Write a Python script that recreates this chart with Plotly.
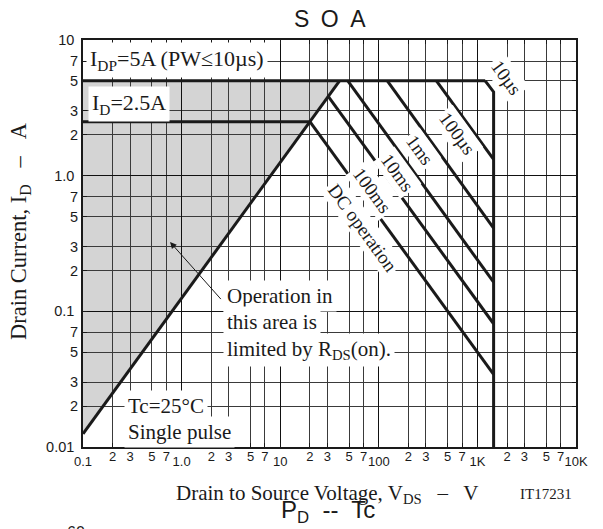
import numpy as np
import plotly.graph_objects as go

# ---------------- data ----------------
# safe-operating-area boundaries (V in volts, I in amps)
rds_v = [0.1, 40]
rds_i = [0.0125, 5]
id_v = [0.1, 20]
id_i = [2.5, 2.5]
idp_v = [0.1, 1200]
idp_i = [5, 5]
us10_v = [1200, 1460, 1460]
us10_i = [5, 4.14, 0.01]
us100_v = [384, 1460]
us100_i = [5, 1.32]
ms1_v = [122, 1460]
ms1_i = [5, 0.41]
ms10_v = [48.5, 1460]
ms10_i = [5, 0.164]
ms100_v = [30.7, 1460]
ms100_i = [3.84, 0.081]
dc_v = [20, 1460]
dc_i = [2.5, 0.0343]

# shaded region limited by RDS(on)
fill_v = [0.1, 40, 0.1]
fill_i = [0.0125, 5, 5]

# tick labels
major_x = [0.1, 1, 10, 100, 1000, 10000]
major_x_text = ["0.1", "1.0", "10", "100", "1K", "10K"]
minor_x = [0.2, 0.3, 0.5, 0.7, 2, 3, 5, 7, 20, 30, 50, 70,
           200, 300, 500, 700, 2000, 3000, 5000, 7000]
minor_x_text = ["2", "3", "5", "7"] * 5
major_y = [0.01, 0.1, 1, 10]
major_y_text = ["0.01", "0.1", "1.0", "10"]
minor_y = [0.02, 0.03, 0.05, 0.07, 0.2, 0.3, 0.5, 0.7, 2, 3, 5, 7]
minor_y_text = ["2", "3", "5", "7"] * 3

# pulse-width labels (text, V, I)
pulse_labels = ["10µs", "100µs", "1ms", "10ms", "100ms", "DC operation"]
pulse_label_v = [1970, 627, 264, 154, 86, 68]
pulse_label_i = [5.31, 2.05, 1.54, 1.057, 0.78, 0.414]

# ---------------- layout constants ----------------
W, H = 603, 529
ML, MR, MT, MB = 83, 27, 40, 82
PW, PH = W - ML - MR, H - MT - MB

def xp(px):
    return (px - ML) / PW

def yp(py):
    return (H - MB - py) / PH

SERIF = "Liberation Serif"
SANS = "Liberation Sans"
INK = "#1a1a1a"

fig = go.Figure()

line_style = dict(color=INK, width=3)
for v, i in [(rds_v, rds_i), (id_v, id_i), (idp_v, idp_i), (us10_v, us10_i),
             (us100_v, us100_i), (ms1_v, ms1_i), (ms10_v, ms10_i),
             (ms100_v, ms100_i), (dc_v, dc_i)]:
    fig.add_trace(go.Scatter(x=v, y=i, mode="lines", line=line_style,
                             hoverinfo="skip", showlegend=False))

# invisible traces to activate the overlay label axes
fig.add_trace(go.Scatter(x=[1], y=[1], xaxis="x2", yaxis="y", mode="markers",
                         marker=dict(opacity=0), hoverinfo="skip", showlegend=False))
fig.add_trace(go.Scatter(x=[1], y=[1], xaxis="x", yaxis="y2", mode="markers",
                         marker=dict(opacity=0), hoverinfo="skip", showlegend=False))

# shaded area (below gridlines); shape paths take data values on log axes
path = "M{},{} L{},{} L{},{} Z".format(fill_v[0], fill_i[0], fill_v[1], fill_i[1],
                                        fill_v[2], fill_i[2])
fig.add_shape(type="path", path=path, xref="x", yref="y", layer="below",
              fillcolor="#d4d4d4", line=dict(width=0))

tickfont = dict(family=SANS, size=13, color=INK)
ytickfont = dict(family=SANS, size=14.5, color=INK)

fig.update_layout(
    width=W, height=H,
    margin=dict(l=ML, r=MR, t=MT, b=MB),
    paper_bgcolor="white", plot_bgcolor="white",
    hovermode=False, showlegend=False,
    xaxis=dict(type="log", range=[-1, 4], tickvals=major_x, ticktext=major_x_text,
               ticks="inside", ticklen=4, tickcolor=INK, tickwidth=1,
               showline=True, linecolor=INK, linewidth=1.6, mirror="ticks",
               showgrid=True, gridcolor="#111111", gridwidth=1.3, zeroline=False,
               tickfont=tickfont, ticklabelstandoff=2,
               minor=dict(tickvals=minor_x, ticks="inside", ticklen=4, tickcolor=INK,
                          showgrid=True, gridcolor="#3a3a3a", gridwidth=1)),
    xaxis2=dict(type="log", range=[-1, 4], overlaying="x", anchor="y", side="bottom",
                tickvals=minor_x, ticktext=minor_x_text, ticks="", showgrid=False,
                showline=False, zeroline=False, tickfont=tickfont, ticklabelstandoff=0),
    yaxis=dict(type="log", range=[-2, 1], tickvals=major_y, ticktext=major_y_text,
               ticks="inside", ticklen=4, tickcolor=INK, tickwidth=1,
               showline=True, linecolor=INK, linewidth=1.6, mirror="ticks",
               showgrid=True, gridcolor="#111111", gridwidth=1.3, zeroline=False,
               tickfont=ytickfont, ticklabelstandoff=4,
               minor=dict(tickvals=minor_y, ticks="inside", ticklen=4, tickcolor=INK,
                          showgrid=True, gridcolor="#3a3a3a", gridwidth=1)),
    yaxis2=dict(type="log", range=[-2, 1], overlaying="y", anchor="x", side="left",
                tickvals=minor_y, ticktext=minor_y_text, ticks="", showgrid=False,
                showline=False, zeroline=False, tickfont=ytickfont, ticklabelstandoff=4),
)

ann = []
# pulse labels along lines
for t, v, i in zip(pulse_labels, pulse_label_v, pulse_label_i):
    ann.append(dict(text=t, x=np.log10(v), y=np.log10(i), xref="x", yref="y",
                    textangle=54, showarrow=False, bgcolor="white", borderpad=2,
                    font=dict(family=SERIF, size=19, color=INK)))

def box_text(text, px, py, size=21, anchor="left", pad=3):
    return dict(text=text, x=xp(px), y=yp(py), xref="paper", yref="paper",
                xanchor=anchor, yanchor="middle", showarrow=False,
                bgcolor="white", borderpad=pad,
                font=dict(family=SERIF, size=size, color=INK))

ann.append(box_text("I<sub>DP</sub>=5A (PW≤10µs)", 86, 60, size=22))
ann.append(box_text("I<sub>D</sub>=2.5A", 88, 104, size=22))
ann.append(box_text("Operation in", 223, 296))
ann.append(box_text("this area is", 223, 322))
ann.append(box_text("limited by R<sub>DS</sub>(on).", 223, 350))
ann.append(box_text("Tc=25°C", 124, 406))
ann.append(box_text("Single pulse", 124, 432))

# arrow pointing into the shaded area
ann.append(dict(text="", x=np.log10(0.764), y=np.log10(0.324), xref="x", yref="y",
                ax=np.log10(2.58), ay=np.log10(0.120), axref="x", ayref="y",
                showarrow=True, arrowhead=2, arrowsize=1.3, arrowwidth=1,
                arrowcolor=INK, standoff=0, startstandoff=0))

# axis titles & titles
ann.append(dict(text="Drain Current, I<sub>D</sub>\u2002 – \u2002A", x=xp(20), y=yp(231),
                xref="paper", yref="paper", textangle=-90, showarrow=False,
                xanchor="center", yanchor="middle",
                font=dict(family=SERIF, size=22.5, color=INK)))
ann.append(dict(text="Drain to Source Voltage, V<sub>DS</sub> \u2002–\u2002 V", x=xp(327), y=yp(494),
                xref="paper", yref="paper", showarrow=False,
                xanchor="center", yanchor="middle",
                font=dict(family=SERIF, size=21, color=INK)))
ann.append(dict(text="IT17231", x=xp(546), y=yp(494), xref="paper", yref="paper",
                showarrow=False, xanchor="center", yanchor="middle",
                font=dict(family=SERIF, size=15, color=INK)))
ann.append(dict(text="S\u2002O\u2002A", x=xp(330), y=yp(19), xref="paper", yref="paper",
                showarrow=False, xanchor="center", yanchor="middle",
                font=dict(family=SANS, size=23, color=INK)))
ann.append(dict(text="P<sub>D</sub>  --  Tc", x=xp(328), y=yp(511), xref="paper", yref="paper",
                showarrow=False, xanchor="center", yanchor="middle",
                font=dict(family=SANS, size=24, color=INK)))
ann.append(dict(text="60", x=xp(76), y=yp(522), xref="paper", yref="paper",
                showarrow=False, xanchor="center", yanchor="top",
                font=dict(family=SANS, size=16, color=INK)))

fig.update_layout(annotations=ann)
fig.write_html("out.html", config={"displayModeBar": False},
               post_script="document.body.style.margin='0';document.body.style.padding='0';"
                           "document.body.style.overflow='hidden';")
